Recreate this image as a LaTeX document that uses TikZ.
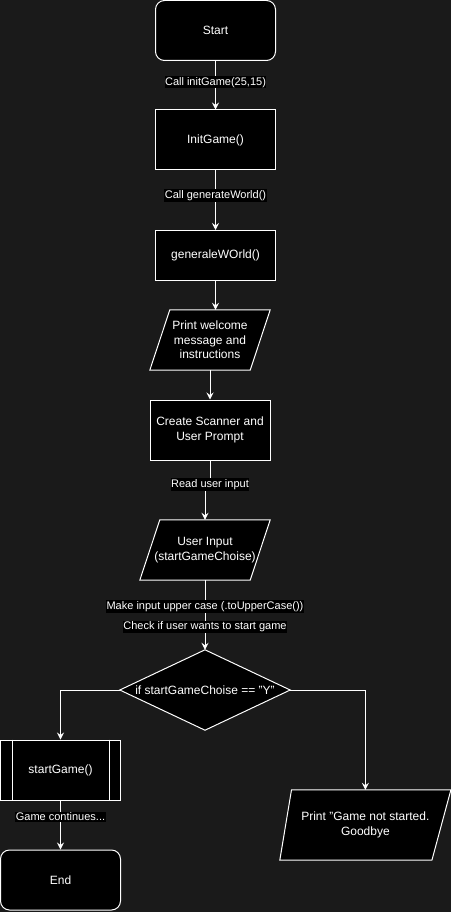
\documentclass[tikz,border=0pt]{standalone}
\usepackage{fontspec}
\setmainfont{Liberation Sans}
\usetikzlibrary{arrows.meta,backgrounds}
\definecolor{bgc}{HTML}{1A1A1A}
\begin{document}
\begin{tikzpicture}[x=1pt,y=-1pt,
  every node/.style={text=white, inner sep=0pt, align=center, font=\fontsize{12}{14.6}\selectfont},
  box/.style={draw=white, fill=black, line width=1pt, minimum width=120pt, minimum height=60pt},
  rbox/.style={box, rounded corners=9pt},
  ghost/.style={draw=none, fill=none},
  shp/.style={draw=white, fill=black, line width=1pt, line join=miter},
  lbl/.style={fill=black, text=white, font=\fontsize{11}{13}\selectfont, inner xsep=0.5pt, inner ysep=1pt},
  arr/.style={draw=white, line width=1pt, -{Stealth[length=7pt,width=7pt,inset=2.5pt]}},
]
\useasboundingbox (0,0) rectangle (451,912);

\node[rbox] (start) at (215.5,30.5) {Start};
\node[box] (init) at (215.5,140) {InitGame()};
\node[box, minimum height=50pt] (gen) at (215.5,255.5) {generaleWOrld()};
\node[ghost, minimum width=120pt, minimum height=60pt] (p1) at (210,340) {Print welcome\\message and\\instructions};
\node[box] (create) at (210,430) {Create Scanner and\\User Prompt};
\node[ghost, minimum width=130pt, minimum height=60pt] (input) at (205,550) {User Input\\(startGameChoise)};
\node[ghost, minimum width=170pt, minimum height=80pt] (dec) at (205,690) {if startGameChoise == "Y"};
\node[box] (sg) at (60.5,770) {startGame()};
\node[rbox] (end) at (60.5,880) {End};
\node[ghost, minimum width=170.7pt, minimum height=70pt] (p2) at (365.35,825) {Print "Game not started.\\Goodbye};

\begin{scope}[on background layer]
\fill[bgc] (0,0) rectangle (451,912);
\draw[shp] ([xshift=20pt]p1.north west) -- (p1.north east) -- ([xshift=-20pt]p1.south east) -- (p1.south west) -- cycle;
\draw[shp] ([xshift=20pt]input.north west) -- (input.north east) -- ([xshift=-20pt]input.south east) -- (input.south west) -- cycle;
\draw[shp] (dec.north) -- (dec.east) -- (dec.south) -- (dec.west) -- cycle;
\draw[shp] ([xshift=11.7pt]p2.north west) -- (p2.north east) -- ([xshift=-19pt]p2.south east) -- (p2.south west) -- cycle;
\end{scope}
\draw[white, line width=1pt] ([xshift=12pt]sg.north west) -- ([xshift=12pt]sg.south west)
  ([xshift=-12pt]sg.north east) -- ([xshift=-12pt]sg.south east);

\draw[arr] (start) -- node[lbl, pos=0.44]{Call initGame(25,15)} (init);
\draw[arr] (init) -- node[lbl, pos=0.42]{Call generateWorld()} (gen);
\draw[arr] (gen.south) -- (gen.south |- p1.north);
\draw[arr] (p1.south) -- (create.north);
\draw[arr] (create.south) -- ++(0,24) node[lbl]{Read user input} -| (input.north);
\draw[arr] (input.south) -- node[lbl, pos=0.376]{Make input upper case (.toUpperCase())}
  node[lbl, pos=0.67]{Check if user wants to start game} (dec.north);
\draw[arr] (dec.west) -| (sg.north);
\draw[arr] (dec.east) -| (p2.north);
\draw[arr] (sg.south) -- node[lbl, pos=0.33]{Game continues...} (end.north);
\end{tikzpicture}
\end{document}
